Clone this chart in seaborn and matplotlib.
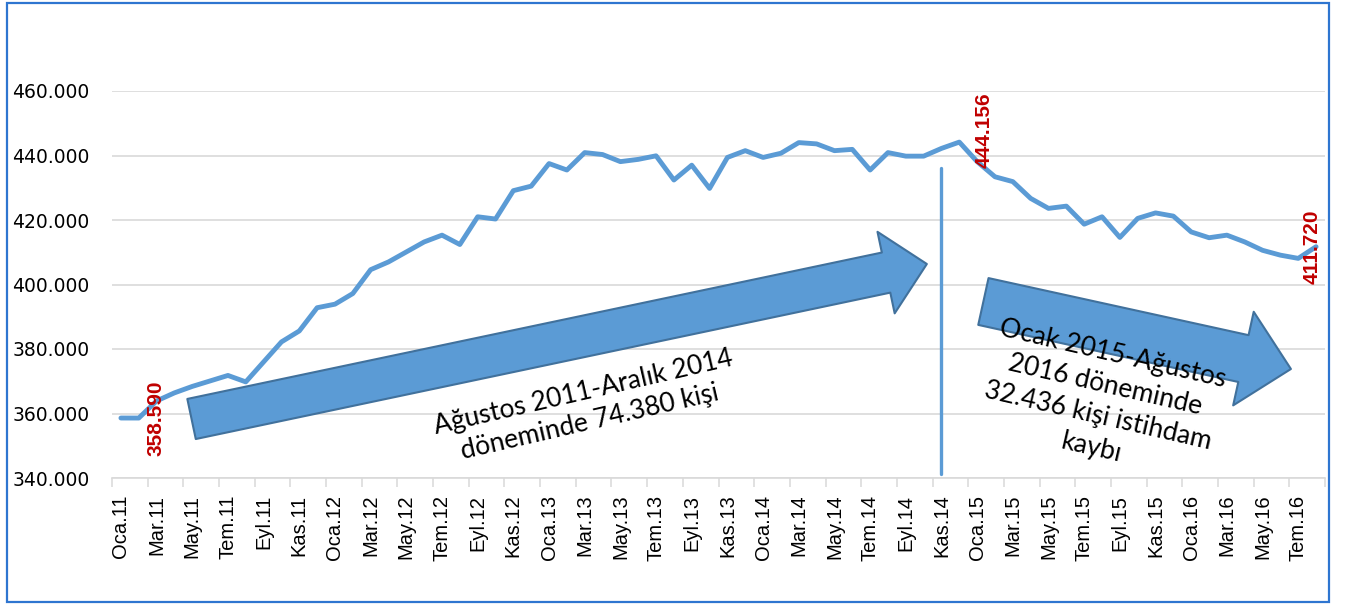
import numpy as np
import pandas as pd
import seaborn as sns
import matplotlib.pyplot as plt
from matplotlib.patches import FancyArrowPatch, Rectangle
from matplotlib.ticker import FuncFormatter, FixedLocator

# Turkish month abbreviations and years covered (Jan 2011 - Aug 2016)
months = ["Oca", "Şub", "Mar", "Nis", "May", "Haz", "Tem", "Ağu", "Eyl", "Eki", "Kas", "Ara"]
years = ["11", "12", "13", "14", "15", "16"]

# Monthly employment (persons)
employment = [
    358600, 358590, 363900, 366400, 368400, 370100, 371800, 369800, 376000, 382200, 385600, 392800,
    393900, 397200, 404600, 407000, 410100, 413200, 415300, 412400, 421000, 420300, 429100, 430500,
    437500, 435500, 440900, 440300, 438100, 438800, 439900, 432400, 437000, 429800, 439400, 441500,
    439400, 440700, 444000, 443600, 441500, 441900, 435500, 440900, 439800, 439800, 442200, 444156,
    438100, 433400, 431900, 426700, 423600, 424300, 418700, 421000, 414600, 420500, 422200, 421200,
    416300, 414500, 415300, 413200, 410600, 409100, 408100, 411720,
]

# Points that carry a red value label
labelled = [1, 47, 67]

periods = [f"{m}.{y}" for y in years for m in months][:len(employment)]
df = pd.DataFrame({"idx": np.arange(len(employment)), "period": periods, "value": employment})

line_blue = "#5B9BD5"
grid_gray = "#D9D9D9"

sns.set_theme(style="white")
plt.rcParams["font.family"] = ["DejaVu Sans"]

fig = plt.figure(figsize=(13.46, 6.05), dpi=100)
ax = fig.add_axes([112 / 1346, 1 - 478 / 605, (1325 - 112) / 1346, 387 / 605])

sns.lineplot(data=df, x="idx", y="value", color=line_blue, linewidth=3.5, ax=ax,
             solid_joinstyle="round", solid_capstyle="round")

ax.set_xlim(-0.5, len(employment) - 0.5)
ax.set_ylim(340000, 460000)
ax.set_yticks(np.arange(340000, 460001, 20000))
ax.yaxis.set_major_formatter(FuncFormatter(lambda v, p: f"{int(v):,}".replace(",", ".")))
ax.grid(axis="y", color=grid_gray, linewidth=1.2)
ax.set_axisbelow(True)

# Labels every second month, tick marks on category boundaries
ax.tick_params(axis="x", which="major", length=0, pad=12, labelsize=14.5, labelcolor="black")
ax.tick_params(axis="x", which="minor", length=6.5, width=1.1, color=grid_gray, bottom=True)
ax.tick_params(axis="y", length=0, pad=16, labelsize=13.5, labelcolor="black")
ax.set_xticks(df["idx"][::2].tolist())
ax.set_xticklabels(df["period"][::2].tolist(), rotation=90, family="Liberation Sans", fontsize=14.5)
ax.xaxis.set_minor_locator(FixedLocator(np.arange(-0.5, len(employment), 2)))
ax.set_xlabel("")
ax.set_ylabel("")

for s in ["top", "right", "left"]:
    ax.spines[s].set_visible(False)
ax.spines["bottom"].set_color(grid_gray)
ax.spines["bottom"].set_linewidth(1.2)

# Red data labels
offsets = {1: (17, 0), 47: (25, 12), 67: (-4, 0)}
for i in labelled:
    v = employment[i]
    ax.annotate(f"{v:,}".replace(",", "."), xy=(i, v), xytext=offsets[i], textcoords="offset pixels",
                rotation=90, ha="center", va="center", color="#C00000", fontsize=15,
                fontweight="bold", family="Liberation Sans")

# Block arrows
arrow_kw = dict(facecolor=line_blue, edgecolor="#41719C", linewidth=1.5, shrinkA=0, shrinkB=0,
                mutation_scale=1, zorder=3)
ax.add_patch(FancyArrowPatch((3.96, 358300), (45.18, 406360),
                             arrowstyle="simple,head_length=30,head_width=60,tail_width=29.5", **arrow_kw))
ax.add_patch(FancyArrowPatch((48.35, 394730), (65.59, 373800),
                             arrowstyle="simple,head_length=35,head_width=69,tail_width=34.5", **arrow_kw))

# Separator line
ax.axvline(45.95, ymin=0.01, ymax=0.80, color=line_blue, linewidth=2.4)

ax.text(26.1, 362000, "Ağustos 2011-Aralık 2014\ndöneminde 74.380 kişi", rotation=13,
        ha="center", va="center", fontsize=19, family="Lato", color="black", linespacing=1.25, zorder=4)
ax.text(55.0, 364000, "Ocak 2015-Ağustos\n2016 döneminde\n32.436 kişi istihdam\nkaybı", rotation=-13,
        ha="center", va="center", fontsize=19, family="Lato", color="black", linespacing=1.35, zorder=4)

# Outer chart border
fig.patches.append(Rectangle((7 / 1346, 3 / 605), 1322 / 1346, 599 / 605, transform=fig.transFigure,
                             fill=False, edgecolor="#2E75D0", linewidth=1.6))

fig.savefig("out.png", dpi=100)
